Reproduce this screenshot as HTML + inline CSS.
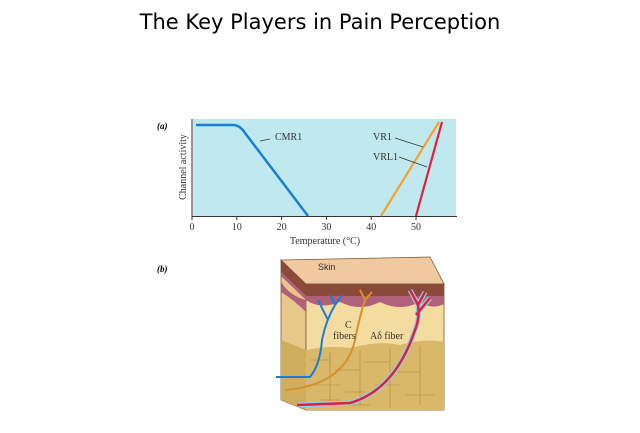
<!DOCTYPE html>
<html><head><style>
html,body{margin:0;padding:0;background:#fff;}
svg{display:block}
</style></head><body>
<svg width="640" height="433" viewBox="0 0 640 433" xmlns="http://www.w3.org/2000/svg">
<text x="320" y="29" text-anchor="middle" font-family="'Comic Sans MS','DejaVu Sans',sans-serif" font-size="21" fill="#000">The Key Players in Pain Perception</text>
<!-- chart a -->
<text x="157" y="129" font-family="'Liberation Serif',serif" font-style="italic" font-weight="bold" font-size="9">(a)</text>
<rect x="193" y="119" width="263" height="97" fill="#bfe9ef"/>
<line x1="192" y1="119" x2="192" y2="217" stroke="#333" stroke-width="1"/>
<line x1="192" y1="216.5" x2="457" y2="216.5" stroke="#333" stroke-width="1"/>
<g stroke="#333" stroke-width="1">
<line x1="192" y1="216" x2="192" y2="220"/><line x1="236.8" y1="216" x2="236.8" y2="220"/><line x1="281.6" y1="216" x2="281.6" y2="220"/><line x1="326.4" y1="216" x2="326.4" y2="220"/><line x1="371.2" y1="216" x2="371.2" y2="220"/><line x1="416" y1="216" x2="416" y2="220"/>
</g>
<g font-family="'Liberation Serif',serif" font-size="10" fill="#333" text-anchor="middle">
<text x="192" y="230">0</text><text x="236.8" y="230">10</text><text x="281.6" y="230">20</text><text x="326.4" y="230">30</text><text x="371.2" y="230">40</text><text x="416" y="230">50</text>
<text x="325" y="244">Temperature (°C)</text>
<text transform="translate(186,167) rotate(-90)" >Channel activity</text>
</g>
<path d="M196 125 L233 125 Q240 125 245 133 L308 216" fill="none" stroke="#1a7fd4" stroke-width="2.5"/>
<line x1="381" y1="216" x2="439" y2="122" stroke="#f5a030" stroke-width="2.2"/>
<line x1="416" y1="216" x2="442" y2="122" stroke="#e0203a" stroke-width="2.2"/>
<line x1="260" y1="141" x2="270" y2="139" stroke="#333" stroke-width="0.7"/>
<text x="275" y="140" font-family="'Liberation Serif',serif" font-size="10" fill="#333">CMR1</text>
<text x="373" y="140" font-family="'Liberation Serif',serif" font-size="10" fill="#333">VR1</text>
<line x1="395" y1="138" x2="423" y2="147" stroke="#333" stroke-width="0.7"/>
<text x="373" y="160" font-family="'Liberation Serif',serif" font-size="10" fill="#333">VRL1</text>
<line x1="399" y1="157" x2="427" y2="167" stroke="#333" stroke-width="0.7"/>
<!-- b -->
<text x="157" y="272" font-family="'Liberation Serif',serif" font-style="italic" font-weight="bold" font-size="9">(b)</text>
<!-- left face -->
<polygon points="281,260 306,284 306,410 281,400" fill="#e8c88a" stroke="#7a5a30" stroke-width="0.8"/>
<!-- top face -->
<polygon points="281,260 430,257 444,284 306,284" fill="#f0c9a0" stroke="#7a5a30" stroke-width="0.8"/>
<!-- front face -->
<rect x="306" y="284" width="138" height="126" fill="#f4dca0" stroke="#7a5a30" stroke-width="0.8"/>
<!-- epidermis band -->
<path d="M281 272 L306 296 L444 296 L444 284 L306 284 L281 260Z" fill="#8a4a3a"/>
<path d="M281 276 L306 300 Q320 310 340 302 Q360 312 380 302 Q400 312 420 302 Q432 310 444 304 L444 296 L306 296 L281 272Z" fill="#b0607a"/>
<path d="M281 282 Q290 296 306 300 L306 312 Q294 300 281 292Z" fill="#b0607a"/>
<!-- fat layer -->
<path d="M306 350 Q330 345 350 348 Q380 340 400 345 Q425 338 444 342 L444 410 L306 410Z" fill="#d9b86a"/>
<path d="M281 340 Q294 345 306 350 L306 410 L281 400Z" fill="#cfae60"/>
<g fill="none" stroke="#a88a40" stroke-width="0.6">
<path d="M310 360 h20 M335 370 h25 M365 362 h25 M395 372 h25 M315 385 h25 M345 392 h20 M375 385 h25 M405 395 h30 M320 400 h20 M350 405 h20"/>
<path d="M330 352 v50 M360 350 v55 M390 348 v60 M420 345 v60"/>
</g>
<text x="318" y="270" font-family="'Liberation Sans',sans-serif" font-size="9" fill="#333">Skin</text>
<!-- C fibers -->
<path d="M276 377 L310 377 Q320 365 322 340 Q326 320 335 305 L330 295 M335 305 L342 295 M328 320 L318 300" fill="none" stroke="#1a7fd4" stroke-width="2"/>
<path d="M285 390 Q345 385 355 340 Q360 315 365 300 L360 290 M365 300 L372 292" fill="none" stroke="#d8902a" stroke-width="2"/>
<!-- Adelta -->
<path d="M297 405 L350 403 Q395 390 415 330 Q420 318 418 305 L410 290 M418 305 L425 292 M416 315 L430 298" fill="none" stroke="#8fd0e8" stroke-width="5"/>
<path d="M297 405 L350 403 Q395 390 415 330 Q420 318 418 305 L410 290 M418 305 L425 292 M416 315 L430 298" fill="none" stroke="#e0203a" stroke-width="2.5"/>
<text x="345" y="328" font-family="'Liberation Serif',serif" font-size="10" fill="#333">C</text>
<text x="333" y="339" font-family="'Liberation Serif',serif" font-size="10" fill="#333">fibers</text>
<text x="370" y="339" font-family="'Liberation Serif',serif" font-size="10" fill="#333">Aδ fiber</text>
</svg>
</body></html>
